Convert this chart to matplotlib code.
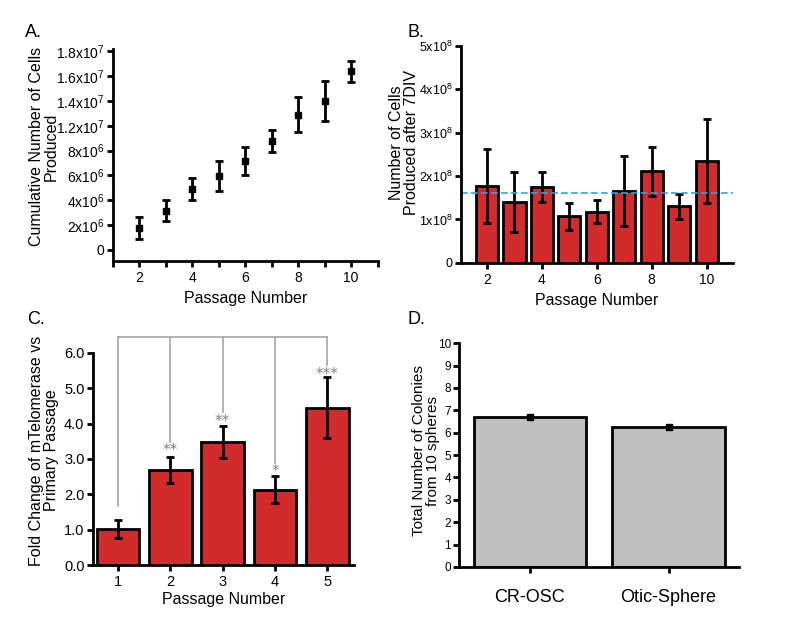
import matplotlib
matplotlib.use('Agg')
import matplotlib.pyplot as plt
from matplotlib.ticker import FixedLocator

plt.rcParams['font.family'] = ['Liberation Sans', 'DejaVu Sans']
plt.rcParams['mathtext.fontset'] = 'custom'
plt.rcParams['mathtext.rm'] = 'Liberation Sans'
plt.rcParams['mathtext.it'] = 'Liberation Sans'

# Panel A: cumulative cells (plotted on the axis as drawn, 9 evenly spaced ticks)
passage_a = [2, 3, 4, 5, 6, 7, 8, 9, 10]
cum_cells = [1.74e6, 3.14e6, 4.88e6, 5.95e6, 7.16e6, 8.77e6, 10.9e6, 12.0e6, 14.4e6]
cum_err = [0.86e6, 0.86e6, 0.90e6, 1.19e6, 1.10e6, 0.91e6, 1.42e6, 1.6e6, 0.86e6]
a_ticks = [0, 2e6, 4e6, 6e6, 8e6, 10e6, 12e6, 14e6, 16e6]
a_ticklabels = ['0', '2x10$^6$', '4x10$^6$', '6x10$^6$', '8x10$^6$',
                '1.2x10$^7$', '1.4x10$^7$', '1.6x10$^7$', '1.8x10$^7$']

# Panel B: cells produced after 7DIV
passage_b = [2, 3, 4, 5, 6, 7, 8, 9, 10]
cells_7div = [1.77e8, 1.40e8, 1.75e8, 1.07e8, 1.18e8, 1.65e8, 2.11e8, 1.30e8, 2.35e8]
cells_err = [0.86e8, 0.69e8, 0.34e8, 0.32e8, 0.26e8, 0.81e8, 0.56e8, 0.29e8, 0.97e8]
mean_line = 1.62e8
b_ticks = [0, 1e8, 2e8, 3e8, 4e8, 5e8]
b_ticklabels = ['0', '1x10$^8$', '2x10$^8$', '3x10$^8$', '4x10$^8$', '5x10$^8$']

# Panel C: fold change of mTelomerase
passage_c = [1, 2, 3, 4, 5]
fold_change = [1.02, 2.68, 3.48, 2.13, 4.45]
fold_err = [0.26, 0.37, 0.46, 0.38, 0.87]
stars = ['', '**', '**', '*', '***']
star_y = [0, 3.37, 4.19, 2.77, 5.52]
bracket_bottom = [1.67, 3.48, 4.33, 2.89, 5.67]
bracket_top = 6.46

# Panel D: colonies
groups_d = ['CR-OSC', 'Otic-Sphere']
colonies = [6.70, 6.25]
colonies_err = [0.10, 0.08]

RED = '#d12b2b'
GRAY_BAR = '#c0c0c0'
BRACKET = '#a6a6a6'


def style_axes(ax):
    for s in ['top', 'right']:
        ax.spines[s].set_visible(False)
    for s in ['left', 'bottom']:
        ax.spines[s].set_linewidth(2)
    ax.tick_params(which='both', direction='out', width=2, length=4, labelsize=10)
    ax.tick_params(axis='y', pad=2)


fig = plt.figure(figsize=(8, 6.2), dpi=100)

# ---- A ----
ax = fig.add_axes([0.141, 0.579, 0.331, 0.342])
style_axes(ax)
ax.errorbar(passage_a, cum_cells, yerr=cum_err, fmt='s', color='black', ms=5,
            elinewidth=2, capsize=3, capthick=2)
ax.set_xlim(1, 11)
ax.set_ylim(-0.92e6, 16.2e6)
ax.set_xticks([2, 4, 6, 8, 10])
ax.xaxis.set_minor_locator(FixedLocator([1, 3, 5, 7, 9, 11]))
ax.set_yticks(a_ticks)
ax.set_yticklabels(a_ticklabels)
ax.set_xlabel('Passage Number', fontsize=11.5)
ax.set_ylabel('Cumulative Number of Cells\nProduced', fontsize=11.5, linespacing=1.0)
ax.yaxis.set_label_coords(-0.205, 0.54)
fig.text(0.031, 0.948, 'A.', fontsize=13, va='center')

# ---- B ----
ax = fig.add_axes([0.576, 0.576, 0.340, 0.350])
style_axes(ax)
ax.bar(passage_b, cells_7div, width=0.81, color=RED, edgecolor='black', linewidth=2)
ax.errorbar(passage_b, cells_7div, yerr=cells_err, fmt='none', ecolor='black',
            elinewidth=2, capsize=3, capthick=2)
ax.axhline(mean_line, color='#33a4d6', ls='--', lw=1.2, dashes=(4, 2))
ax.set_xlim(1.05, 10.95)
ax.set_ylim(0, 5e8)
ax.set_xticks([2, 4, 6, 8, 10])
ax.set_yticks(b_ticks)
ax.set_yticklabels(b_ticklabels, fontsize=9)
ax.set_xlabel('Passage Number', fontsize=11.5)
ax.set_ylabel('Number of Cells\nProduced after 7DIV', fontsize=11.5, linespacing=1.0)
ax.yaxis.set_label_coords(-0.154, 0.553)
fig.text(0.509, 0.948, 'B.', fontsize=13, va='center')

# ---- C ----
ax = fig.add_axes([0.116, 0.0887, 0.326, 0.342])
style_axes(ax)
ax.bar(passage_c, fold_change, width=0.81, color=RED, edgecolor='black', linewidth=2)
ax.errorbar(passage_c, fold_change, yerr=fold_err, fmt='none', ecolor='black',
            elinewidth=2, capsize=3, capthick=2)
for x, yb, st, sy in zip(passage_c, bracket_bottom, stars, star_y):
    ax.plot([x, x], [yb, bracket_top], color=BRACKET, lw=1.2, clip_on=False)
    if st:
        ax.annotate(st, (x, sy), xytext=(0, -3), textcoords='offset points',
                    color='#808080', fontsize=11, ha='center', va='center',
                    family='DejaVu Sans')
ax.plot([passage_c[0], passage_c[-1]], [bracket_top, bracket_top], color=BRACKET,
        lw=1.2, clip_on=False)
ax.set_xlim(0.52, 5.5)
ax.set_ylim(0, 6.0)
ax.set_xticks(passage_c)
ax.set_yticks([0, 1, 2, 3, 4, 5, 6])
ax.set_yticklabels(['0.0', '1.0', '2.0', '3.0', '4.0', '5.0', '6.0'])
ax.tick_params(labelsize=10.5)
ax.set_xlabel('Passage Number', fontsize=11.5, labelpad=2)
ax.set_ylabel('Fold Change of mTelomerase vs\nPrimary Passage', fontsize=11.5, linespacing=1.0)
ax.yaxis.set_label_coords(-0.13, 0.54)
fig.text(0.034, 0.484, 'C.', fontsize=13, va='center')

# ---- D ----
ax = fig.add_axes([0.574, 0.0855, 0.350, 0.361])
style_axes(ax)
xd = range(len(groups_d))
ax.bar(xd, colonies, width=0.81, color=GRAY_BAR, edgecolor='black', linewidth=2)
ax.errorbar(xd, colonies, yerr=colonies_err, fmt='s', color='black', ms=4,
            elinewidth=2, capsize=2, capthick=2)
ax.set_xlim(-0.51, 1.51)
ax.set_ylim(0, 10)
ax.set_xticks(list(xd))
ax.set_xticklabels(groups_d, fontsize=13)
ax.tick_params(axis='x', pad=12)
ax.set_yticks(range(0, 11))
ax.tick_params(axis='y', labelsize=8.5)
ax.set_ylabel('Total Number of Colonies\nfrom 10 spheres', fontsize=11, linespacing=1.0)
ax.yaxis.set_label_coords(-0.068, 0.52)
fig.text(0.509, 0.484, 'D.', fontsize=13, va='center')

fig.savefig('out.png', dpi=100)
